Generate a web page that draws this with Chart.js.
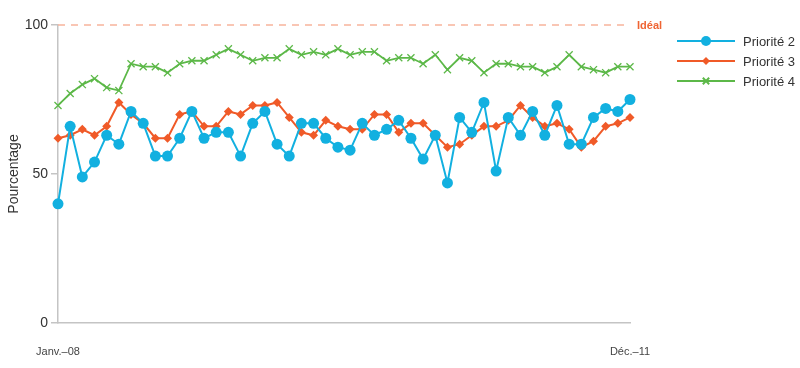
<!DOCTYPE html>
<html>
<head>
<meta charset="utf-8">
<script src="https://cdn.jsdelivr.net/npm/chart.js@4/dist/chart.umd.min.js"></script>
<style>
  html, body { margin: 0; padding: 0; background: #fff; }
  #wrap { width: 800px; height: 368px; }
</style>
</head>
<body>
<div id="wrap"><canvas id="c" width="800" height="368"></canvas></div>
<script>
const months = ["Janv.", "Févr.", "Mars", "Avr.", "Mai", "Juin", "Juil.", "Août", "Sept.", "Oct.", "Nov.", "Déc."];
const years = ["08", "09", "10", "11"];
const categories = [];
years.forEach(y => months.forEach(m => categories.push(m + "–" + y)));
const tickLabels = ["Janv.–08", "Déc.–11"];
const yTicks = [0, 50, 100];
const idealValue = 100;
const idealLabel = "Idéal";
const seriesNames = ["Priorité 2", "Priorité 3", "Priorité 4"];

const priorite2 = [40, 66, 49, 54, 63, 60, 71, 67, 56, 56, 62, 71,
                   62, 64, 64, 56, 67, 71, 60, 56, 67, 67, 62, 59,
                   58, 67, 63, 65, 68, 62, 55, 63, 47, 69, 64, 74,
                   51, 69, 63, 71, 63, 73, 60, 60, 69, 72, 71, 75];
const priorite3 = [62, 63, 65, 63, 66, 74, 70, 67, 62, 62, 70, 71,
                   66, 66, 71, 70, 73, 73, 74, 69, 64, 63, 68, 66,
                   65, 65, 70, 70, 64, 67, 67, 63, 59, 60, 63, 66,
                   66, 68, 73, 69, 66, 67, 65, 59, 61, 66, 67, 69];
const priorite4 = [73, 77, 80, 82, 79, 78, 87, 86, 86, 84, 87, 88,
                   88, 90, 92, 90, 88, 89, 89, 92, 90, 91, 90, 92,
                   90, 91, 91, 88, 89, 89, 87, 90, 85, 89, 88, 84,
                   87, 87, 86, 86, 84, 86, 90, 86, 85, 84, 86, 86];

const BLUE = "#12b0e0", ORANGE = "#f05a28", GREEN = "#5cb848";
const FONT = "'Liberation Sans', Arial, sans-serif";

const legendPlugin = {
  id: "sideLegend",
  afterDraw(chart) {
    const ctx = chart.ctx;
    ctx.save();
    const ys = chart.scales.y;
    const yIdeal = ys.getPixelForValue(idealValue);
    ctx.fillStyle = "#ef6433";
    ctx.font = "bold 11px " + FONT;
    ctx.textBaseline = "middle";
    ctx.textAlign = "left";
    ctx.fillText(idealLabel, 637, yIdeal + 1);
    const ds = chart.data.datasets.filter(d => !d.hideLegend);
    ds.forEach((d, i) => {
      const y = 41 + i * 20;
      ctx.strokeStyle = d.borderColor;
      ctx.lineWidth = 2;
      ctx.beginPath();
      ctx.moveTo(677, y);
      ctx.lineTo(735, y);
      ctx.stroke();
      ctx.fillStyle = d.pointBackgroundColor;
      ctx.strokeStyle = d.pointBorderColor;
      Chart.helpers.drawPoint(ctx, {
        pointStyle: d.pointStyle,
        radius: d.pointRadius - 0.5,
        rotation: 0,
        borderWidth: d.pointBorderWidth
      }, 706, y);
      ctx.fillStyle = "#333";
      ctx.font = "13px " + FONT;
      ctx.textBaseline = "middle";
      ctx.textAlign = "left";
      ctx.fillText(d.label, 743, y + 1);
    });
    ctx.restore();
  }
};

new Chart(document.getElementById("c"), {
  type: "line",
  data: {
    labels: categories,
    datasets: [
      { label: seriesNames[0], data: priorite2, borderColor: BLUE, backgroundColor: BLUE,
        pointBackgroundColor: BLUE, pointBorderColor: BLUE, borderWidth: 2,
        pointStyle: "circle", pointRadius: 5.5, pointBorderWidth: 0, tension: 0 },
      { label: seriesNames[1], data: priorite3, borderColor: ORANGE, backgroundColor: ORANGE,
        pointBackgroundColor: ORANGE, pointBorderColor: ORANGE, borderWidth: 2,
        pointStyle: "rectRot", pointRadius: 4.5, pointBorderWidth: 0, tension: 0 },
      { label: seriesNames[2], data: priorite4, borderColor: GREEN, backgroundColor: GREEN,
        pointBackgroundColor: GREEN, pointBorderColor: GREEN, borderWidth: 1.8,
        pointStyle: "crossRot", pointRadius: 5, pointBorderWidth: 1.3, tension: 0 },
      { label: idealLabel, data: categories.map(() => idealValue), borderColor: "#f7b49c",
        borderWidth: 1.5, borderDash: [7, 6], pointRadius: 0, hideLegend: true, tension: 0 }
    ]
  },
  options: {
    responsive: false,
    animation: false,
    clip: false,
    layout: { padding: { left: 6, right: 170, top: 25, bottom: 0 } },
    plugins: { legend: { display: false }, tooltip: { enabled: false } },
    scales: {
      x: {
        type: "category",
        offset: false,
        grid: { display: false, drawOnChartArea: false },
        border: { display: true, color: "#c4c4c4", width: 1.5 },
        ticks: {
          autoSkip: false, maxRotation: 0, minRotation: 0, padding: 14,
          color: "#444", font: { family: FONT, size: 11 },
          callback: function (v, i) {
            const lab = categories[i];
            return tickLabels.includes(lab) ? lab : "";
          }
        },
        afterFit(s) { s.height = 45; }
      },
      y: {
        min: 0, max: 100,
        afterBuildTicks(s) { s.ticks = yTicks.map(v => ({ value: v })); },
        grid: { drawOnChartArea: false, drawTicks: true, tickLength: 7, color: "#c4c4c4", lineWidth: 1.5 },
        border: { display: true, color: "#c4c4c4", width: 1.5 },
        ticks: { color: "#333", padding: 3, font: { family: FONT, size: 14 } },
        title: { display: true, text: "Pourcentage", color: "#333", font: { family: FONT, size: 14 }, padding: 0 },
        afterFit(s) { s.width = 52; }
      }
    }
  },
  plugins: [legendPlugin]
});
</script>
</body>
</html>
